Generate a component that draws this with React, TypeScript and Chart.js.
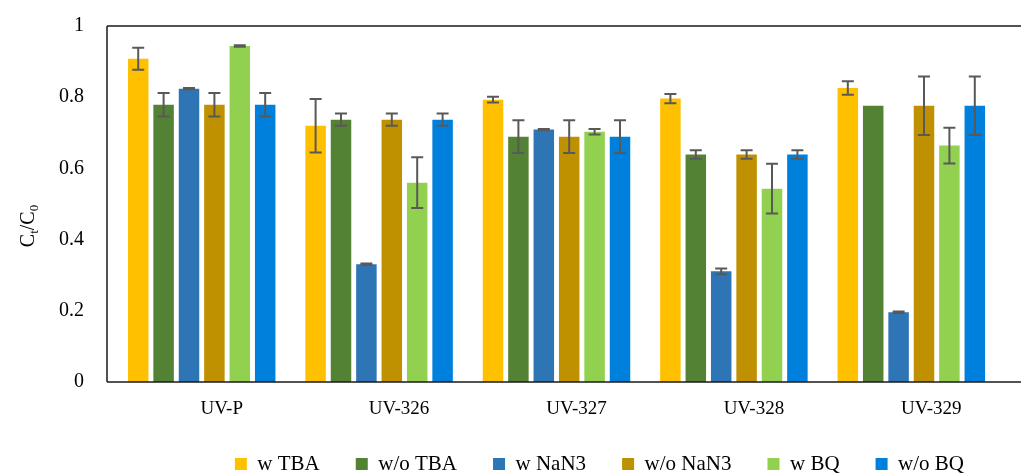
import React, { useEffect, useRef } from "react";
import { Chart, registerables } from "chart.js";

Chart.register(...registerables);

// ---- data ----
const categories = ["UV-P", "UV-326", "UV-327", "UV-328", "UV-329"];
const seriesNames = ["w TBA", "w/o TBA", "w NaN3", "w/o NaN3", "w BQ", "w/o BQ"];

const wTBA = [0.908, 0.72, 0.793, 0.796, 0.826];
const woTBA = [0.779, 0.737, 0.689, 0.639, 0.776];
const wNaN3 = [0.824, 0.331, 0.709, 0.311, 0.196];
const woNaN3 = [0.779, 0.737, 0.689, 0.639, 0.776];
const wBQ = [0.944, 0.56, 0.703, 0.543, 0.664];
const woBQ = [0.779, 0.737, 0.689, 0.639, 0.776];

const errWTBA = [0.031, 0.075, 0.008, 0.013, 0.019];
const errWoTBA = [0.033, 0.017, 0.046, 0.012, 0];
const errWNaN3 = [0.002, 0.002, 0.002, 0.008, 0.002];
const errWoNaN3 = [0.033, 0.017, 0.046, 0.012, 0.082];
const errWBQ = [0.002, 0.071, 0.008, 0.07, 0.05];
const errWoBQ = [0.033, 0.017, 0.046, 0.012, 0.082];

const yMin = 0;
const yMax = 1;
const yStep = 0.2;

const seriesValues = [wTBA, woTBA, wNaN3, woNaN3, wBQ, woBQ];
const seriesErrors = [errWTBA, errWoTBA, errWNaN3, errWoNaN3, errWBQ, errWoBQ];
const seriesColors = ["#FFC000", "#548235", "#2E75B6", "#BF9000", "#92D050", "#0080DD"];

const FONT = "'Liberation Serif', 'Times New Roman', serif";

const framePlugin = {
  id: "frame",
  afterDatasetsDraw(chart: any) {
    const { ctx, chartArea: a, width } = chart;
    ctx.save();
    ctx.strokeStyle = "#1a1a1a";
    ctx.lineWidth = 1.5;
    const L = a.left - 6;
    ctx.beginPath();
    ctx.moveTo(L, a.top);
    ctx.lineTo(width, a.top);
    ctx.moveTo(L, a.top);
    ctx.lineTo(L, a.bottom);
    ctx.moveTo(L, a.bottom);
    ctx.lineTo(width, a.bottom);
    ctx.stroke();
    ctx.restore();
  },
};

const errorBarPlugin = {
  id: "errorBars",
  afterDatasetsDraw(chart: any) {
    const { ctx } = chart;
    const yScale = chart.scales.y;
    ctx.save();
    ctx.strokeStyle = "#595959";
    ctx.lineWidth = 2;
    chart.data.datasets.forEach((ds: any, i: number) => {
      const meta = chart.getDatasetMeta(i);
      const errs = seriesErrors[i];
      meta.data.forEach((el: any, j: number) => {
        const e = errs[j];
        if (!e) return;
        const v = ds.data[j];
        const top = yScale.getPixelForValue(v + e);
        const bot = yScale.getPixelForValue(v - e);
        const x = el.x;
        const cap = 6;
        ctx.beginPath();
        ctx.moveTo(x, top);
        ctx.lineTo(x, bot);
        ctx.moveTo(x - cap, top);
        ctx.lineTo(x + cap, top);
        ctx.moveTo(x - cap, bot);
        ctx.lineTo(x + cap, bot);
        ctx.stroke();
      });
    });
    ctx.restore();
  },
};

const yTitlePlugin = {
  id: "yTitle",
  afterDraw(chart: any) {
    const { ctx, chartArea: a } = chart;
    const big = `20px ${FONT}`;
    const small = `13px ${FONT}`;
    const parts = [
      { t: "C", f: big, dy: 0 },
      { t: "t", f: small, dy: 4 },
      { t: "/C", f: big, dy: 0 },
      { t: "0", f: small, dy: 4 },
    ];
    ctx.save();
    let w = 0;
    parts.forEach((p) => {
      ctx.font = p.f;
      w += ctx.measureText(p.t).width;
    });
    ctx.translate(27, (a.top + a.bottom) / 2 + 22);
    ctx.rotate(-Math.PI / 2);
    ctx.fillStyle = "#000";
    ctx.textBaseline = "alphabetic";
    ctx.textAlign = "left";
    let x = -w / 2;
    parts.forEach((p) => {
      ctx.font = p.f;
      ctx.fillText(p.t, x, 7 + p.dy);
      x += ctx.measureText(p.t).width;
    });
    ctx.restore();
  },
};

export default function App() {
  const ref = useRef<HTMLCanvasElement | null>(null);

  useEffect(() => {
    if (!ref.current) return;
    const chart = new Chart(ref.current, {
      type: "bar",
      data: {
        labels: categories,
        datasets: seriesNames.map((name, i) => ({
          label: name,
          data: seriesValues[i],
          backgroundColor: seriesColors[i],
          borderWidth: 0,
          categoryPercentage: 0.859,
          barPercentage: 0.807,
        })),
      },
      options: {
        responsive: false,
        animation: false,
        events: [],
        layout: { padding: { top: 26, right: 21, left: 0, bottom: -11.5 } },
        scales: {
          x: {
            grid: { display: false, drawTicks: false },
            border: { display: false },
            ticks: {
              color: "#000",
              padding: 16,
              labelOffset: 20,
              font: { family: FONT, size: 19 },
              maxRotation: 0,
              autoSkip: false,
            },
            afterFit: (scale: any) => {
              scale.height = 35.5;
            },
          },
          y: {
            min: yMin,
            max: yMax,
            grid: { display: false, drawTicks: true, tickLength: 29 },
            border: { display: false },
            ticks: {
              stepSize: yStep,
              color: "#000",
              padding: 0,
              font: { family: FONT, size: 20 },
              callback: (v: any) => String(Math.round(Number(v) * 10) / 10),
            },
            afterFit: (scale: any) => {
              scale.width = 113;
            },
          },
        },
        plugins: {
          legend: {
            position: "bottom",
            align: "end",
            labels: {
              boxWidth: 12,
              boxHeight: 12,
              padding: 36,
              color: "#000",
              font: { family: FONT, size: 21 },
            },
          },
          tooltip: { enabled: false },
          title: { display: false },
        },
      },
      plugins: [framePlugin, errorBarPlugin, yTitlePlugin],
    } as any);
    return () => chart.destroy();
  }, []);

  return (
    <div style={{ position: "fixed", left: 0, top: 0, width: 1021, height: 473, background: "#fff" }}>
      <canvas ref={ref} width={1021} height={473} style={{ display: "block" }} />
    </div>
  );
}
